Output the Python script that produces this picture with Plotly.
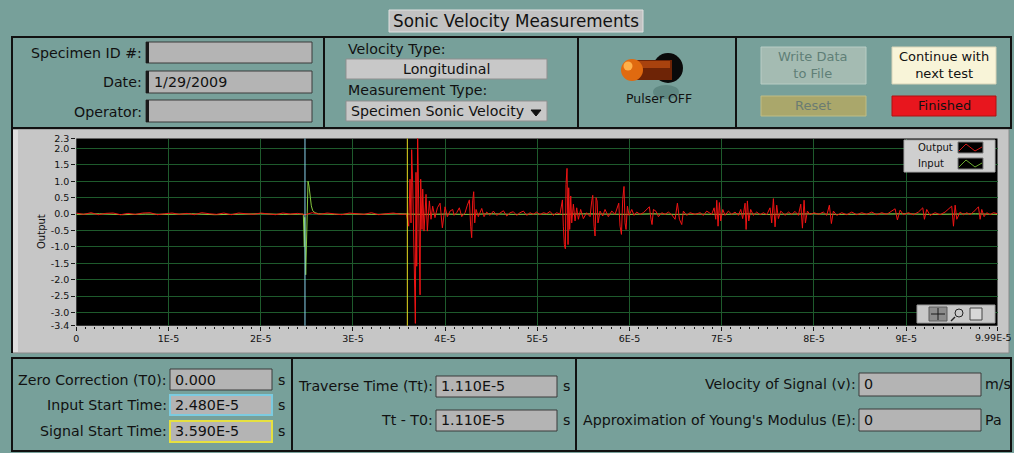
import plotly.graph_objects as go

# ---------------- data ----------------
# waveform times in units of 1E-5 s, amplitudes in output units
out_time = [
    0.00, 0.08, 0.16, 0.24, 0.32, 0.40, 0.48, 0.56, 0.64, 0.72,
    0.80, 0.88, 0.96, 1.04, 1.12, 1.20, 1.28, 1.36, 1.44, 1.52,
    1.60, 1.68, 1.76, 1.84, 1.92, 2.00, 2.08, 2.16, 2.24, 2.32,
    2.40, 2.48, 2.56, 2.64, 2.72, 2.80, 2.88, 2.96, 3.04, 3.12,
    3.20, 3.28, 3.36, 3.44, 3.52, 3.58, 3.605, 3.619, 3.630, 3.637,
    3.648, 3.663, 3.677, 3.684, 3.692, 3.702, 3.717, 3.728, 3.735, 3.749,
    3.757, 3.771, 3.793, 3.807, 3.829, 3.847, 3.865, 3.890, 3.916, 3.945,
    3.970, 3.999, 4.024, 4.053, 4.082, 4.097, 4.125, 4.154, 4.180, 4.216,
    4.241, 4.263, 4.277, 4.288, 4.299, 4.310, 4.321, 4.335, 4.360, 4.397,
    4.422, 4.451, 4.487, 4.523, 4.559, 4.595, 4.632, 4.668, 4.704, 4.740,
    4.776, 4.812, 4.849, 4.885, 4.921, 4.957, 4.993, 5.029, 5.066, 5.102,
    5.138, 5.174, 5.210, 5.246, 5.272, 5.282, 5.293, 5.304, 5.311, 5.322,
    5.333, 5.340, 5.351, 5.362, 5.373, 5.391, 5.409, 5.427, 5.445, 5.470,
    5.499, 5.535, 5.572, 5.590, 5.601, 5.615, 5.626, 5.637, 5.648, 5.658,
    5.680, 5.709, 5.734, 5.770, 5.807, 5.843, 5.868, 5.883, 5.897, 5.912,
    5.926, 5.940, 5.951, 5.962, 5.977, 5.995, 6.024, 6.049, 6.078, 6.114,
    6.150, 6.186, 6.215, 6.233, 6.244, 6.259, 6.288, 6.313, 6.349, 6.385,
    6.421, 6.457, 6.494, 6.519, 6.541, 6.566, 6.584, 6.620, 6.656, 6.711,
    6.765, 6.801, 6.837, 6.891, 6.917, 6.935, 6.946, 6.960, 6.974, 6.989,
    7.011, 7.036, 7.072, 7.108, 7.144, 7.180, 7.206, 7.227, 7.253, 7.264,
    7.278, 7.293, 7.314, 7.343, 7.379, 7.416, 7.452, 7.488, 7.524, 7.542,
    7.560, 7.578, 7.596, 7.614, 7.640, 7.687, 7.723, 7.759, 7.795, 7.831,
    7.857, 7.875, 7.893, 7.907, 7.929, 7.958, 8.001, 8.048, 8.102, 8.139,
    8.167, 8.189, 8.211, 8.247, 8.301, 8.356, 8.410, 8.464, 8.518, 8.572,
    8.627, 8.681, 8.735, 8.789, 8.844, 8.880, 8.905, 8.934, 8.970, 9.024,
    9.079, 9.133, 9.180, 9.198, 9.223, 9.259, 9.314, 9.368, 9.422, 9.458,
    9.494, 9.513, 9.531, 9.549, 9.585, 9.621, 9.657, 9.693, 9.729, 9.784,
    9.802, 9.820, 9.845, 9.874, 9.910, 9.946, 9.990,
]
out_value = [
    0.03, -0.01, 0.04, -0.02, 0.02, 0.03, -0.02, 0.02, -0.01, 0.03,
    0.04, -0.02, 0.01, 0.03, -0.01, 0.02, -0.02, 0.04, 0.01, -0.01,
    0.03, -0.02, 0.03, 0.00, -0.01, 0.03, 0.01, -0.02, 0.03, 0.00,
    0.02, -0.02, 0.04, -0.01, 0.03, 0.01, -0.02, 0.03, 0.00, -0.01,
    0.04, -0.02, 0.01, 0.03, -0.01, 0.00, -0.37, 1.06, -0.27, 1.96,
    0.96, -1.69, -3.33, 1.27, -1.59, 2.45, -1.59, -2.46, 1.06, -0.47,
    0.76, -0.52, 0.60, -0.52, 0.40, -0.16, 0.24, -0.11, 0.19, 0.33,
    -0.42, 0.22, -0.08, 0.09, 0.14, -0.04, 0.04, 0.19, -0.08, 0.04,
    0.27, 0.43, -0.37, -0.72, 0.40, 0.68, -0.27, 0.14, -0.08, 0.17,
    -0.08, 0.06, -0.04, 0.09, -0.04, 0.04, 0.10, -0.06, 0.04, 0.07,
    -0.04, 0.04, 0.09, -0.04, 0.04, -0.01, 0.06, -0.02, 0.04, 0.01,
    0.08, -0.04, 0.04, 0.00, 0.43, -0.37, -0.93, -1.06, 0.90, 1.39,
    -0.93, 0.80, -0.47, 0.55, -0.27, 0.30, -0.21, 0.19, -0.16, 0.14,
    -0.14, 0.04, -0.08, 0.40, 0.57, -0.37, -0.67, 0.50, 0.40, -0.27,
    0.09, -0.06, 0.14, -0.08, 0.09, -0.01, 0.24, 0.33, -0.37, -0.62,
    0.45, 0.84, -0.27, -0.47, 0.24, -0.04, 0.14, -0.04, 0.06, -0.01,
    0.04, 0.14, 0.22, -0.16, -0.32, 0.14, 0.08, -0.08, 0.04, -0.01,
    0.06, -0.02, -0.16, 0.33, -0.16, -0.32, 0.09, -0.04, 0.04, -0.01,
    0.04, -0.04, 0.09, -0.01, 0.19, -0.16, 0.42, -0.37, 0.35, -0.21,
    0.14, -0.04, 0.09, -0.01, 0.06, -0.04, 0.14, -0.14, 0.33, -0.47,
    0.40, -0.21, 0.14, -0.04, 0.06, -0.02, 0.04, -0.02, 0.19, -0.27,
    0.47, -0.39, 0.27, -0.14, 0.09, -0.04, 0.06, -0.01, 0.08, -0.04,
    0.30, -0.43, 0.42, -0.27, 0.09, -0.02, 0.04, -0.01, 0.06, -0.04,
    0.27, -0.29, 0.09, -0.04, 0.04, -0.02, 0.06, -0.02, 0.04, -0.01,
    0.06, -0.02, 0.04, -0.01, 0.08, 0.16, -0.18, 0.12, -0.02, 0.04,
    -0.02, 0.06, 0.19, -0.16, 0.14, -0.04, 0.04, -0.02, 0.06, 0.14,
    0.24, -0.37, 0.27, -0.16, 0.06, -0.02, 0.04, -0.02, 0.06, 0.22,
    -0.16, 0.14, -0.08, 0.04, -0.02, 0.04, 0.01,
]
in_time = [
    0.00, 0.25, 0.50, 0.75, 1.00, 1.25, 1.50, 1.75, 2.00, 2.25,
    2.45, 2.462, 2.473, 2.477, 2.488, 2.499, 2.506, 2.513, 2.524, 2.535,
    2.549, 2.564, 2.589, 2.625, 2.80, 3.00, 3.25, 3.50, 3.75, 4.00,
    4.25, 4.50, 4.75, 5.00, 5.25, 5.50, 5.75, 6.00, 6.25, 6.50,
    6.75, 7.00, 7.25, 7.50, 7.75, 8.00, 8.25, 8.50, 8.75, 9.00,
    9.25, 9.50, 9.75, 9.99,
]
in_value = [
    -0.01, 0.01, -0.02, 0.00, -0.01, 0.01, -0.02, 0.00, 0.01, -0.01,
    0.00, 0.00, -1.00, -0.10, -1.85, -0.45, 0.85, 1.00, 0.85, 0.60,
    0.25, 0.10, 0.04, 0.01, -0.01, 0.00, -0.01, 0.01, -0.01, 0.00,
    -0.01, 0.01, -0.01, 0.00, -0.01, 0.01, 0.00, -0.01, 0.01, -0.01,
    0.00, -0.01, 0.01, -0.01, 0.00, 0.01, -0.01, 0.00, -0.01, 0.01,
    -0.01, 0.00, 0.01, -0.01,
]
x_tick_vals = [0, 1e-5, 2e-5, 3e-5, 4e-5, 5e-5, 6e-5, 7e-5, 8e-5, 9e-5, 9.99e-5]
x_tick_text = ["0", "1E-5", "2E-5", "3E-5", "4E-5", "5E-5", "6E-5", "7E-5", "8E-5", "9E-5", "9.99E-5"]
y_tick_vals = [2.3, 2.0, 1.5, 1.0, 0.5, 0.0, -0.5, -1.0, -1.5, -2.0, -2.5, -3.0, -3.4]
y_tick_text = ["2.3", "2.0", "1.5", "1.0", "0.5", "0.0", "-0.5", "-1.0", "-1.5", "-2.0", "-2.5", "-3.0", "-3.4"]

zero_correction = 0.0
input_start_time = 2.480e-5
signal_start_time = 3.590e-5
traverse_time = 1.110e-5
velocity_of_signal = 0
youngs_modulus = 0
specimen_date = "1/29/2009"


def lv_fmt(v):
    m, e = f"{v:.3E}".split("E")
    return f"{m}E{int(e)}"


# ---------------- helpers ----------------
W, H = 1014, 453
FONT = "DejaVu Sans"
TEAL = "#77a09a"
LBL = 14.2
VAL = 14.3
TICK = 9.5

def X(p):
    return p / W


def Y(p):
    return 1 - p / H


fig = go.Figure()


def rect(x0, y0, x1, y1, fill=None, line=None, lw=1, layer="above"):
    fig.add_shape(type="rect", xref="paper", yref="paper",
                  x0=X(x0), x1=X(x1), y0=Y(y1), y1=Y(y0),
                  fillcolor=fill if fill else "rgba(0,0,0,0)",
                  line=dict(color=line if line else "rgba(0,0,0,0)", width=lw if line else 0),
                  layer=layer)


def circle(cx, cy, r, fill, line=None, lw=1, ry=None):
    ry = ry if ry else r
    fig.add_shape(type="circle", xref="paper", yref="paper",
                  x0=X(cx - r), x1=X(cx + r), y0=Y(cy + ry), y1=Y(cy - ry),
                  fillcolor=fill, line=dict(color=line if line else fill, width=lw if line else 0))


def hline(x0, x1, y, color="#111111", lw=2, layer="above"):
    fig.add_shape(type="line", xref="paper", yref="paper", x0=X(x0), x1=X(x1), y0=Y(y), y1=Y(y),
                  line=dict(color=color, width=lw), layer=layer)


def vline(x, y0, y1, color="#111111", lw=2, layer="above"):
    fig.add_shape(type="line", xref="paper", yref="paper", x0=X(x), x1=X(x), y0=Y(y0), y1=Y(y1),
                  line=dict(color=color, width=lw), layer=layer)


def path(pts, color, lw=1, fill=None):
    d = "M " + " L ".join(f"{X(a)},{Y(b)}" for a, b in pts)
    if fill:
        d += " Z"
    fig.add_shape(type="path", xref="paper", yref="paper", path=d, line=dict(color=color, width=lw),
                  fillcolor=fill if fill else "rgba(0,0,0,0)")


def text(x, y, s, size=LBL, anchor="left", color="#111111", family=FONT):
    fig.add_annotation(xref="paper", yref="paper", x=X(x), y=Y(y), text=s, showarrow=False,
                       xanchor=anchor, yanchor="middle", borderpad=0,
                       font=dict(family=family, size=size, color=color))


def field(x0, y0, x1, y1, border="#3a3a3a", bw=1, bar=True):
    rect(x0, y0, x1, y1, fill="#b4b4b4", line=border, lw=bw)
    if bar:
        rect(x0, y0, x0 + 3, y1, fill="#1a1a1a")


# ---------------- title ----------------
rect(389, 10, 643, 32, fill="#c2c2c2", line="#e0e0e0", lw=1)
text(516, 21, "Sonic Velocity Measurements", size=16.8, anchor="center")

# ---------------- top panels ----------------
rect(12, 37, 1011, 128, line="#111111", lw=2)
vline(324, 37, 128)
vline(578, 37, 128)
vline(736, 37, 128)

text(143, 53, "Specimen ID #:", anchor="right")
text(143, 82, "Date:", anchor="right")
text(143, 112, "Operator:", anchor="right")
field(146, 42, 312, 63)
field(146, 71, 312, 93)
field(146, 100, 312, 122)
text(153, 82, specimen_date, size=VAL)

text(347, 49, "Velocity Type:")
rect(346, 59, 547, 79, fill="#c8c8c8", line="#8f8f8f")
text(446, 69, "Longitudinal", anchor="center")
text(347, 90, "Measurement Type:")
rect(346, 101, 547, 121, fill="#c8c8c8", line="#8f8f8f")
text(350, 111, "Specimen Sonic Velocity")
path([(531, 110), (541, 110), (536, 116)], "#111111", 1, fill="#111111")

# toggle switch
circle(666, 92, 13, "#5f8882", ry=7)
circle(668, 68, 15, "#0a0a0a")
rect(632, 60, 672, 80, fill="#6e2406")
rect(632, 61, 670, 68, fill="#a8420e")
circle(632, 70, 11, "#e06a10")
circle(628, 66, 4.5, "#ffb04a")
text(659, 98, "Pulser OFF", size=12.5, anchor="center")

# buttons
rect(761, 47, 866, 84, fill="#a4bbb2", line="#b9cdc5")
text(813, 65, "Write Data<br>to File", size=13, anchor="center", color="#5f7f77")
rect(892, 47, 996, 84, fill="#f8f4d8", line="#d8d4b8")
text(944, 65, "Continue with<br>next test", size=13, anchor="center")
rect(761, 96, 866, 116, fill="#aaa76b", line="#c0bd85")
text(813, 106, "Reset", size=13, anchor="center", color="#6b7c72")
rect(892, 96, 996, 116, fill="#e8161e", line="#b01010")
text(944, 106, "Finished", size=13, anchor="center")

# ---------------- graph frame ----------------
rect(12, 129, 1009, 353, fill="#c6c6c6", line="#8a8a8a", lw=1, layer="below")
rect(13, 130, 18, 352, fill="#dedede", layer="below")
vline(12, 128, 353, color="#111111", lw=2, layer="below")
fig.add_shape(type="rect", xref="x domain", yref="y domain", x0=0, x1=1, y0=0, y1=1,
              fillcolor="#000000", line=dict(width=0), layer="below")

GRID = "#1e5a2c"
fig.add_trace(go.Scatter(x=[t * 1e-5 for t in in_time], y=in_value, mode="lines",
                         line=dict(color="#86c83e", width=1), hoverinfo="skip", name="Input"))
fig.add_trace(go.Scatter(x=[t * 1e-5 for t in out_time], y=out_value, mode="lines",
                         line=dict(color="#f01414", width=1), hoverinfo="skip", name="Output"))

# cursors
fig.add_shape(type="line", xref="x", yref="y domain", x0=input_start_time, x1=input_start_time,
              y0=0, y1=1, line=dict(color="#8ad4ee", width=1))
fig.add_shape(type="line", xref="x", yref="y domain", x0=signal_start_time, x1=signal_start_time,
              y0=0, y1=1, line=dict(color="#e8dc20", width=1))

# plot legend
rect(904, 140, 995, 172, fill="#cfcfcf", line="#a8a8a8")
text(917, 147, "Output", size=10)
text(917, 163, "Input", size=10)
rect(958, 142, 983, 153, fill="#000000", line="#7a7a7a")
path([(959, 151), (966, 144), (975, 151), (982, 147)], "#d01818", 1)
rect(958, 158, 983, 169, fill="#000000", line="#7a7a7a")
path([(959, 167), (966, 160), (975, 167), (982, 163)], "#6aa830", 1)

# tool palette
rect(917, 305, 995, 323, fill="#c8c8c8", line="#9a9a9a")
rect(929, 307, 947, 321, fill="#8c8c8c", line="#5a5a5a")
hline(931, 945, 314, color="#1a1a1a", lw=1)
vline(938, 308, 320, color="#1a1a1a", lw=1)
circle(959, 313, 4, "rgba(0,0,0,0)", line="#222222", lw=1)
path([(955, 317), (951, 321)], "#222222", 1.5)
rect(970, 308, 982, 320, fill="#d8d8d8", line="#444444")

text(42, 232, "Output", size=10)
fig.layout.annotations[-1].update(textangle=-90, xanchor="center")

# last x tick label kept inside the page (right-aligned at the edge)
text(1013, 337.5, x_tick_text[-1], size=TICK, anchor="right")

# ---------------- bottom panels ----------------
rect(12, 358, 1011, 451, line="#111111", lw=2)
vline(292, 358, 451)
vline(576, 358, 451)

text(168, 380, "Zero Correction (T0):", anchor="right")
text(168, 405, "Input Start Time:", anchor="right")
text(168, 431, "Signal Start Time:", anchor="right")
field(170, 369, 272, 390, bar=False)
field(170, 395, 272, 415, border="#7ccbe0", bw=2, bar=False)
field(170, 421, 272, 442, border="#e6e040", bw=2, bar=False)
text(174, 380, f"{zero_correction:.3f}", size=VAL)
text(174, 405, lv_fmt(input_start_time), size=VAL)
text(174, 431, lv_fmt(signal_start_time), size=VAL)
for yy in (380, 405, 431):
    text(281, yy, "s", anchor="center")

text(434, 386, "Traverse Time (Tt):", anchor="right")
text(434, 420, "Tt - T0:", anchor="right")
field(436, 376, 557, 397, bar=False)
field(436, 410, 557, 431, bar=False)
text(440, 386, lv_fmt(traverse_time), size=VAL)
text(440, 420, lv_fmt(traverse_time - zero_correction), size=VAL)
text(566, 386, "s", anchor="center")
text(566, 420, "s", anchor="center")

text(857, 384, "Velocity of Signal (v):", anchor="right")
text(857, 420, "Approximation of Young's Modulus (E):", anchor="right")
field(859, 373, 981, 396, bar=False)
field(859, 409, 981, 431, bar=False)
text(863, 384, str(velocity_of_signal), size=VAL)
text(863, 420, str(youngs_modulus), size=VAL)
text(984, 384, "m/s")
text(984, 420, "Pa")

# ---------------- axes ----------------
fig.update_layout(
    width=W, height=H, margin=dict(l=0, r=0, t=0, b=0),
    paper_bgcolor=TEAL, plot_bgcolor="#000000", showlegend=False, template="none",
    xaxis=dict(domain=[X(76.3), X(997.5)], range=[0, 9.9905e-5], tickmode="array",
               tickvals=x_tick_vals, ticktext=x_tick_text[:-1] + [""], ticks="outside", ticklen=4,
               tickcolor="#1a1a1a", tickwidth=1, showgrid=True, gridcolor=GRID, gridwidth=1,
               zeroline=False, showline=False, fixedrange=True,
               tickfont=dict(family=FONT, size=TICK, color="#111111"),
               minor=dict(tickmode="linear", tick0=0, dtick=1e-6, ticks="outside", ticklen=2,
                          tickcolor="#1a1a1a", showgrid=False)),
    yaxis=dict(domain=[Y(325.7), Y(138.5)], range=[-3.4, 2.3], tickmode="array",
               tickvals=y_tick_vals, ticktext=y_tick_text, ticks="outside", ticklen=4,
               tickcolor="#1a1a1a", tickwidth=1, showgrid=True, gridcolor=GRID, gridwidth=1,
               zeroline=False, showline=False, fixedrange=True,
               tickfont=dict(family=FONT, size=TICK, color="#111111")),
)

fig.write_html("out.html")
